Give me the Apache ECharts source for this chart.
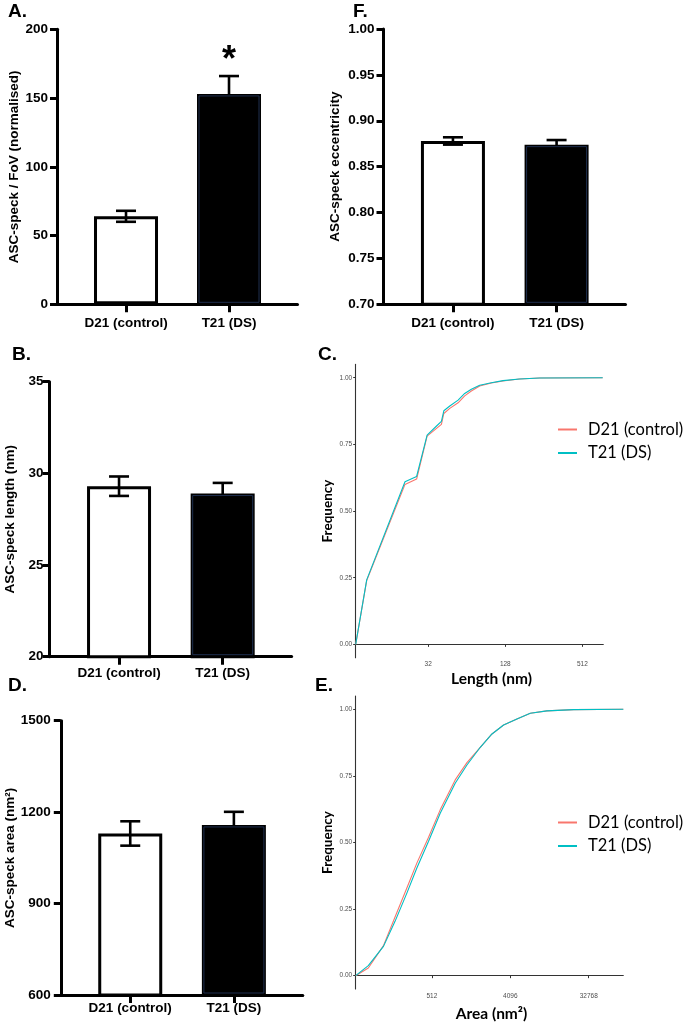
<!DOCTYPE html>
<html><head><meta charset="utf-8">
<script src="https://cdn.jsdelivr.net/npm/echarts@6/dist/echarts.min.js"></script>
<style>html,body{margin:0;padding:0;background:#fff}#c{width:685px;height:1023px}</style>
</head><body><div id="c"></div>
<script>
// ---------- data ----------
const groups = ['D21 (control)', 'T21 (DS)'];
const fovMean = [64, 153];
const fovSem = [4, 13];
const fovSignificance = ['', '*'];
const eccMean = [0.878, 0.874];
const eccSem = [0.004, 0.005];
const lengthMean = [29.3, 28.9];
const lengthSem = [0.53, 0.58];
const areaMean = [1130, 1158];
const areaSem = [40, 43];

const lengthNm =      [8.7, 10.6, 21.1, 26,    31.4,  37.2,  40.6,  42.4,  47.2,  54.8,  61.7,  69.5,  80.8,  99.6,  122.8, 165,   237,   737];
const lengthCdfD21 =  [0,   0.239, 0.600, 0.620, 0.781, 0.810, 0.825, 0.866, 0.885, 0.906, 0.932, 0.950, 0.969, 0.980, 0.988, 0.995, 0.999, 1.0];
const lengthCdfT21 =  [0,   0.242, 0.610, 0.630, 0.785, 0.819, 0.836, 0.876, 0.894, 0.916, 0.941, 0.957, 0.972, 0.981, 0.989, 0.995, 0.999, 1.0];

const areaNm2 =     [68, 95,    142,  193,   264,   344,    468,   639,    951,    1298,  1849,   2521,   3432,  4887,  6964,  10800, 22000, 82000];
const areaCdfD21 =  [0,  0.029, 0.113, 0.220, 0.329, 0.4225, 0.519, 0.6225, 0.735,  0.800, 0.8575, 0.9075, 0.941, 0.964, 0.985, 0.994, 0.999, 1.0];
const areaCdfT21 =  [0,  0.0375, 0.11, 0.204, 0.310, 0.404,  0.504, 0.610,  0.7225, 0.791, 0.8575, 0.9075, 0.941, 0.964, 0.985, 0.994, 0.999, 1.0];

const lengthTicks = [32, 128, 512];
const areaTicks = [512, 4096, 32768];
const freqTicks = [0, 0.25, 0.5, 0.75, 1];

// ---------- layout / style ----------
const BAR_FONT = 'Liberation Sans';
const GG_FONT = 'Lato';
const barFill = ['#ffffff', '#000000'];
const barInner = [null, '#1e2e4e'];

const barPanels = [
  {grid:{left:57, top:29.3, width:240.5, height:275}, y:{min:0, max:200, interval:50, dec:0},
   mean:fovMean, sem:fovSem, sig:fovSignificance, name:'ASC-speck / FoV (normalised)', nameGap:36, lm:9, xm:12},
  {grid:{left:383.5, top:29, width:242, height:275.3}, y:{min:0.7, max:1.0, interval:0.05, dec:2},
   mean:eccMean, sem:eccSem, sig:null, name:'ASC-speck eccentricity', nameGap:41, lm:9, xm:12},
  {grid:{left:49.6, top:381.7, width:242, height:275}, y:{min:20, max:35, interval:5, dec:0},
   mean:lengthMean, sem:lengthSem, sig:null, name:'ASC-speck length (nm)', nameGap:32, lm:6, xm:10},
  {grid:{left:60.8, top:720.7, width:242, height:274.3}, y:{min:600, max:1500, interval:300, dec:0},
   mean:areaMean, sem:areaSem, sig:null, name:'ASC-speck area (nm²)', nameGap:44, lm:10, xm:6}
];

const grids = [], xAxes = [], yAxes = [], series = [];

barPanels.forEach((p, i) => {
  grids.push(Object.assign({containLabel:false}, p.grid));
  xAxes.push({
    type:'value', gridIndex:i, min:0.33, max:2.665,
    splitLine:{show:false},
    axisLine:{show:true, lineStyle:{color:'#000', width:3}},
    axisTick:{show:true, customValues:[1,2], length:8, lineStyle:{color:'#000', width:3}},
    axisLabel:{show:true, customValues:[1,2], formatter:v => groups[Math.round(v)-1],
      fontFamily:BAR_FONT, fontWeight:'bold', fontSize:13.5, color:'#000', margin:p.xm}
  });
  yAxes.push({
    type:'value', gridIndex:i, min:p.y.min, max:p.y.max, interval:p.y.interval,
    splitLine:{show:false},
    axisLine:{show:true, lineStyle:{color:'#000', width:3}},
    axisTick:{show:true, length:7, lineStyle:{color:'#000', width:3}},
    axisLabel:{fontFamily:BAR_FONT, fontWeight:'bold', fontSize:13.5, color:'#000', margin:p.lm,
      formatter:v => v.toFixed(p.y.dec)},
    name:p.name, nameLocation:'middle', nameGap:p.nameGap, nameRotate:90,
    nameTextStyle:{fontFamily:BAR_FONT, fontWeight:'bold', fontSize:13.5, color:'#000'}
  });
  series.push({
    type:'bar', xAxisIndex:i, yAxisIndex:i, barWidth:64, silent:true, clip:true,
    data:p.mean.map((m,k) => ({value:[k+1, m],
      itemStyle:{color:barFill[k], borderColor:'#000', borderWidth:3}}))
  });
  const yMin = p.y.min;
  const sig = p.sig;
  series.push({
    type:'custom', xAxisIndex:i, yAxisIndex:i, silent:true, z:5,
    data:p.mean.map((m,k) => [k+1, m, p.sem[k], k]),
    renderItem:(params, api) => {
      const x = api.value(0), m = api.value(1), s = api.value(2), k = api.value(3);
      const top = api.coord([x, m + s]);
      const bot = api.coord([x, m - s]);
      const mid = api.coord([x, m]);
      const base = api.coord([x, yMin]);
      const ls = {stroke:'#000', lineWidth:2.6};
      const half = 10;
      const ch = [
        {type:'line', shape:{x1:top[0], y1:top[1], x2:bot[0], y2:bot[1]}, style:ls},
        {type:'line', shape:{x1:top[0]-half, y1:top[1], x2:top[0]+half, y2:top[1]}, style:ls},
        {type:'line', shape:{x1:bot[0]-half, y1:bot[1], x2:bot[0]+half, y2:bot[1]}, style:ls}
      ];
      if (barInner[k]) {
        ch.push({type:'rect', shape:{x:mid[0]-30, y:mid[1]+2, width:60, height:base[1]-mid[1]-4},
          style:{fill:null, stroke:barInner[k], lineWidth:1}});
      }
      if (sig && sig[k]) {
        ch.push({type:'text', style:{text:sig[k], x:top[0], y:top[1]-15, align:'center', verticalAlign:'middle',
          font:'bold 36px "Liberation Sans"', fill:'#000'}});
      }
      return {type:'group', children:ch};
    }
  });
});

// ---------- CDF panels ----------
const log2 = v => Math.log2(v);
const cdfPanels = [
  {grid:{left:355.7, top:364.4, width:247.6, height:293.3}, xr:[8.7, 745], ticks:lengthTicks,
   xName:'Length (nm)', xPad:24, xGap:13, x:lengthNm, d21:lengthCdfD21, t21:lengthCdfT21, legendTop:421},
  {grid:{left:355.7, top:696, width:267.6, height:293.3}, xr:[68, 82000], ticks:areaTicks,
   xName:'Area (nm²)', xPad:4, xGap:17, x:areaNm2, d21:areaCdfD21, t21:areaCdfT21, legendTop:814}
];
const legends = [];
cdfPanels.forEach((p, j) => {
  const i = barPanels.length + j;
  grids.push(Object.assign({containLabel:false}, p.grid));
  xAxes.push({
    type:'value', gridIndex:i, min:log2(p.xr[0]), max:log2(p.xr[1]),
    splitLine:{show:false},
    axisLine:{show:true, lineStyle:{color:'#333', width:1.1}},
    axisTick:{show:true, customValues:p.ticks.map(log2), length:2.5, lineStyle:{color:'#333', width:1}},
    axisLabel:{customValues:p.ticks.map(log2), formatter:v => String(Math.round(Math.pow(2, v))),
      fontFamily:'Liberation Sans', fontSize:6.5, color:'#4d4d4d', margin:3.5},
    name:p.xName, nameLocation:'middle', nameGap:p.xGap,
    nameTextStyle:{fontFamily:GG_FONT, fontWeight:'bold', fontSize:15.5, color:'#000', padding:[0,0,0,p.xPad]}
  });
  yAxes.push({
    type:'value', gridIndex:i, min:-0.05, max:1.05,
    splitLine:{show:false},
    axisLine:{show:true, lineStyle:{color:'#333', width:1.1}},
    axisTick:{show:true, customValues:freqTicks, length:2.5, lineStyle:{color:'#333', width:1}},
    axisLabel:{customValues:freqTicks, formatter:v => v.toFixed(2),
      fontFamily:'Liberation Sans', fontSize:6.5, color:'#4d4d4d', margin:3.5},
    name:'Frequency', nameLocation:'middle', nameGap:21, nameRotate:90,
    nameTextStyle:{fontFamily:GG_FONT, fontWeight:'bold', fontSize:13.5, color:'#000'}
  });
  series.push({
    type:'line', name:groups[0], xAxisIndex:i, yAxisIndex:i, symbol:'none', silent:true,
    lineStyle:{color:'#F8766D', width:1.1}, itemStyle:{color:'#F8766D'},
    data:p.x.map((v,k) => [log2(v), p.d21[k]])
  });
  series.push({
    type:'line', name:groups[1], xAxisIndex:i, yAxisIndex:i, symbol:'none', silent:true,
    lineStyle:{color:'#00BFC4', width:1.1}, itemStyle:{color:'#00BFC4'},
    data:p.x.map((v,k) => [log2(v), p.t21[k]])
  });
  legends.push({
    orient:'vertical', left:558, top:p.legendTop, padding:0, icon:'rect', itemWidth:19, itemHeight:2,
    itemGap:6.5, selectedMode:false, data:groups,
    textStyle:{fontFamily:GG_FONT, fontSize:16.5, color:'#000', lineHeight:16, padding:[0,0,0,6]}
  });
});

const panelLabel = (t, left, top) => ({text:t, left, top,
  textStyle:{fontFamily:BAR_FONT, fontWeight:'bold', fontSize:19, color:'#000'}});

const chart = echarts.init(document.getElementById('c'), null, {renderer:'canvas'});
chart.setOption({
  animation:false,
  backgroundColor:'#fff',
  title:[
    panelLabel('A.', 3, -3), panelLabel('F.', 348, -3),
    panelLabel('B.', 7, 340), panelLabel('C.', 313, 340),
    panelLabel('D.', 3, 671), panelLabel('E.', 310, 671)
  ].map(t => Object.assign(t, {padding:5})),
  grid:grids, xAxis:xAxes, yAxis:yAxes, legend:legends, series
});
</script></body></html>
